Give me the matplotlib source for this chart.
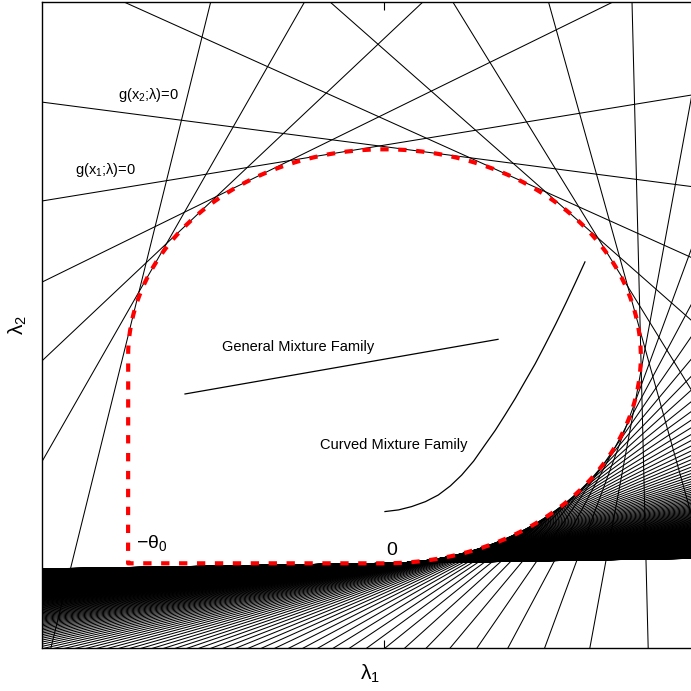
"""Local mixture of an exponential model: the lines g(x;lambda)=0 in the
(lambda1, lambda2) plane and the boundary of the region where g >= 0.

g(x;lambda)/f(x;theta0) = 1 + lambda1 (1 - u) + lambda2 (u^2 - 2u),  u = theta0 x
"""
import numpy as np
import matplotlib
matplotlib.use("Agg")
import matplotlib.pyplot as plt
from matplotlib.collections import LineCollection

plt.rcParams["font.family"] = ["Liberation Sans", "DejaVu Sans"]
plt.rcParams["mathtext.fontset"] = "custom"
plt.rcParams["mathtext.rm"] = "Liberation Sans"
plt.rcParams["mathtext.it"] = "Liberation Sans"
plt.rcParams["mathtext.bf"] = "Liberation Sans:bold"

# ── model / grid of x values (scaled u = theta0 * x) ────────────────────────
X_STEP = 0.18
N_LINES = 556
u_grid = X_STEP * np.arange(1, N_LINES + 1)

# ── axis window (lambda1, lambda2) ──────────────────────────────────────────
XLIM = (-1.337, 1.223)
YLIM = (-0.2053, 1.3558)

# ── annotation curves ───────────────────────────────────────────────────────
gmf_l1 = [-0.778, 0.443]           # "General Mixture Family" straight line
gmf_l2 = [0.409, 0.541]
cmf_l1 = [0.002, 0.055, 0.106, 0.160, 0.210, 0.257, 0.301, 0.348, 0.392,
          0.432, 0.470, 0.510, 0.548, 0.588, 0.626, 0.668, 0.708, 0.745, 0.782]
cmf_l2 = [0.125, 0.129, 0.137, 0.149, 0.165, 0.187, 0.213, 0.247, 0.286,
          0.321, 0.358, 0.398, 0.439, 0.482, 0.527, 0.578, 0.629, 0.678, 0.728]

# text labels: (lambda1, lambda2, string, size)
labels = [
    (-1.039, 1.131, r"g(x$_2$;$\lambda$)=0", 10.5),
    (-1.207, 0.950, r"g(x$_1$;$\lambda$)=0", 10.5),
    (-0.634, 0.522, "General Mixture Family", 10.5),
    (-0.252, 0.286, "Curved Mixture Family", 10.5),
]
corner_labels = [
    (-0.968, 0.037, r"$-\theta_0$"),
    (0.006, 0.020, "0"),
]

# ── lines g(x;lambda)=0 : a*l1 + b*l2 = -1 ─────────────────────────────────
segs = []
for u in u_grid:
    a = 1.0 - u
    b = u * u - 2.0 * u
    if abs(b) >= abs(a):
        l1 = np.array([-3.0, 3.0])
        l2 = (-1.0 - a * l1) / b
    else:
        l2 = np.array([-3.0, 3.0])
        l1 = (-1.0 - b * l2) / a
    segs.append(np.column_stack([l1, l2]))

# ── boundary of {g >= 0}: corner, vertical edge, envelope, bottom edge ─────
t = np.linspace(0.0, np.pi / 2 - 1e-4, 4000)
ue = np.tan(t)
den = ue ** 2 - 2 * ue + 2
env_l1 = 2 * (ue - 1) / den
env_l2 = 1 / den
bnd_l1 = np.concatenate([[0.0, -1.0, -1.0], env_l1, [0.0]])
bnd_l2 = np.concatenate([[0.0, 0.0, 0.5], env_l2, [0.0]])

# ── figure ──────────────────────────────────────────────────────────────────
W = 691
fig = plt.figure(figsize=(6.91, 6.91), dpi=100)
ax = fig.add_axes([41.7 / W, 1 - 648.3 / W, (698 - 41.7) / W, (648.3 - 2) / W])

ax.add_collection(LineCollection(segs, colors="black", linewidths=0.75,
                                 zorder=2))
ax.plot(bnd_l1, bnd_l2, color="#ff0000", lw=3.0, dashes=(2.0, 2.3),
        dash_capstyle="butt", zorder=4)
ax.plot(gmf_l1, gmf_l2, color="black", lw=0.9, zorder=3)
ax.plot(cmf_l1, cmf_l2, color="black", lw=0.9, zorder=3)

for x, y, s, fs in labels:
    ax.text(x, y, s, fontsize=fs, ha="left", va="center", zorder=5)
for x, y, s in corner_labels:
    ax.text(x, y, s, fontsize=14, ha="left", va="baseline", zorder=5)

ax.set_xlim(*XLIM)
ax.set_ylim(*YLIM)
ax.set_xticks([0])
ax.set_xticklabels([])
ax.set_yticks([])
ax.tick_params(axis="x", direction="in", top=True, length=6, width=0.8)
for sp in ax.spines.values():
    sp.set_linewidth(1.0)

fig.text(370 / W, 1 - 674 / W, r"$\lambda_1$", fontsize=15,
         ha="center", va="center")
fig.text(18 / W, 1 - 325 / W, r"$\lambda_2$", fontsize=15,
         ha="center", va="center", rotation=90)

fig.savefig("out.png", dpi=100)
plt.close(fig)
